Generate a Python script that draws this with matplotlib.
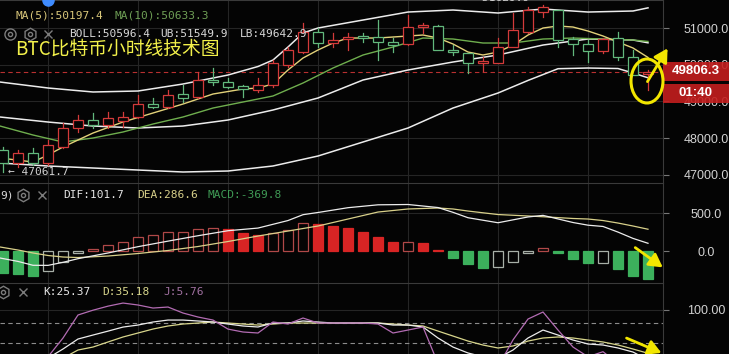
import matplotlib
matplotlib.use("Agg")
import matplotlib.pyplot as plt
from matplotlib.patches import Rectangle, Ellipse, FancyArrowPatch

# hourly BTC candles, oldest -> newest
opens = [47673, 47318, 47591, 47318, 47755, 48273, 48491, 48355, 48464, 48573,
         48927, 48846, 49200, 49118, 49582, 49527, 49418, 49309, 49445, 49991,
         50345, 50891, 50591, 50700, 50782, 50755, 50618, 50564, 51027, 51055,
         50400, 50318, 50045, 50045, 50482, 50891, 51436, 51491, 50700, 50564,
         50373, 50727, 50209, 49745]
highs = [47755, 47673, 47727, 47945, 48409, 48627, 48682, 48709, 48709, 49173,
         49091, 49309, 49445, 49800, 49909, 49636, 49445, 49636, 50127, 50482,
         51136, 51000, 50864, 50864, 50864, 51218, 50727, 51355, 51136, 51070,
         50536, 50330, 50209, 50727, 51409, 51573, 51629.9, 51500, 50755, 50673,
         50727, 50891, 50400, 49855]
lows = [47061.7, 47209, 47264, 47264, 47727, 48164, 48273, 48273, 48300, 48545,
        48818, 48818, 48982, 49091, 49445, 49364, 49118, 49255, 49391, 49936,
        50318, 50482, 50482, 50400, 50618, 50127, 50345, 50536, 50864, 50390,
        50264, 49773, 49827, 50040, 50470, 50864, 51300, 50482, 50264, 50073,
        50318, 50127, 49710, 49309]
closes = [47318, 47591, 47318, 47809, 48273, 48491, 48355, 48545, 48573, 48927,
          48846, 49173, 49091, 49582, 49527, 49391, 49336, 49445, 50045, 50400,
          50891, 50591, 50673, 50755, 50727, 50618, 50536, 51027, 51082, 50400,
          50345, 50045, 50100, 50482, 50945, 51491, 51573, 50673, 50564, 50373,
          50700, 50209, 49718, 49806.3]

ma5_idx = [-0.2, 2, 3, 4, 6, 8, 10, 12, 14, 16, 17, 18, 19, 20, 21, 22, 23, 25,
           27, 28, 29, 30, 31, 32, 33, 34, 35, 36, 37, 38, 39, 40, 41, 42, 43]
ma5 = [47455, 47346, 47537, 47755, 48136, 48437, 48682, 48927, 49200, 49336,
       49364, 49473, 49855, 50182, 50400, 50591, 50727, 50727, 50782, 50809,
       50727, 50564, 50345, 50264, 50345, 50536, 50809, 51000, 51055, 51027,
       50918, 50782, 50618, 50455, 50197.4]
ma10_idx = [-0.2, 2, 4, 6, 8, 10, 12, 14, 16, 18, 20, 22, 24, 26, 28, 30, 32, 34,
            36, 38, 40, 42, 43]
ma10 = [48327, 48082, 47891, 48000, 48164, 48382, 48573, 48818, 48982, 49146,
        49500, 49909, 50264, 50482, 50727, 50700, 50591, 50591, 50700, 50727,
        50700, 50673, 50633.3]

ub_idx = [-0.2, 3, 6, 9, 12, 15, 17, 18, 19, 20, 21, 24, 27, 30, 33, 36, 39, 42, 43]
ub = [49527, 49364, 49255, 49282, 49473, 49718, 49950, 50127, 50482, 50864,
      51000, 51218, 51436, 51491, 51409, 51518, 51436, 51464, 51549.9]
mid_idx = [-0.2, 3, 6, 9, 12, 15, 18, 21, 24, 27, 30, 33, 36, 39, 42, 43]
mid = [48573, 48436, 48327, 48273, 48327, 48491, 48764, 49091, 49582, 49855,
       50073, 50264, 50536, 50700, 50673, 50596.4]
lb_idx = [-0.2, 3, 6, 9, 12, 15, 18, 21, 24, 27, 30, 33, 35, 37, 39, 41, 42, 43]
lb = [47318, 47237, 47182, 47127, 47073, 47100, 47237, 47509, 47891, 48273,
      48818, 49227, 49570, 49890, 49909, 49895, 49773, 49642.9]

macd_hist = [-290, -300, -325, -260, -140, -30, 26, 79, 114, 180, 210, 246, 250,
             285, 298, 285, 241, 210, 241, 276, 364, 355, 329, 298, 254, 189,
             114, 118, 101, 13, -88, -175, -228, -215, -145, -26, 35, -30, -105,
             -162, -155, -237, -325, -369.8]
macd_idx = [-0.2, 1, 2, 3, 4, 5, 7, 9, 11, 13, 15, 17, 19, 20, 21, 23, 25, 27, 29,
            30, 31, 33, 35, 36, 38, 39, 40, 41, 42, 43]
dif = [-92, -137, -188, -189, -149, -101, -26, 57, 130, 201, 267, 302, 401, 478,
       507, 570, 608, 612, 572, 509, 438, 372, 448, 469, 375, 340, 323, 249, 166,
       101.7]
dea = [53, 13, -26, -59, -79, -86, -66, -33, 7, 59, 125, 197, 263, 296, 329, 421,
       513, 553, 566, 553, 526, 480, 461, 451, 428, 421, 401, 368, 329, 286.6]

k_vals = [15, 18, 24, 28, 41.5, 56.3, 62.2, 68, 74, 77, 81.5, 84.4, 84.4, 83,
          81.5, 78.5, 75.6, 74.1, 80, 80, 83, 81.5, 80, 80, 80, 80, 77, 77, 74.1,
          57.8, 44.4, 35.6, 30, 28, 40, 57.8, 69.6, 62.2, 54.8, 48.9, 47.4, 43,
          37, 25.37]
d_vals = [10, 12, 16, 20, 28, 40, 44.4, 51.9, 59.3, 65.2, 71.1, 75.6, 78.5, 80,
          81.5, 80, 78.5, 77, 78.5, 80, 80, 80, 80, 80, 80, 80, 78.5, 77, 75.6,
          68.1, 60.7, 53.3, 47.4, 43, 46, 53.3, 57.8, 59.3, 57.8, 54.8, 51.9,
          47.4, 41.5, 35.18]
j_vals = [20, 25, 28, 30, 57.8, 91.9, 99, 105, 109.6, 106.7, 102.2, 103.7, 94.8,
          88.9, 84.4, 71, 66.7, 65.2, 81.5, 78.5, 87.4, 80, 80, 80, 80, 78.5,
          65.2, 69.6, 74.1, 20, -10, -20, -5, 15, 55, 85.9, 96.3, 69.6, 44.4, 30,
          37.5, 20, 10, 5.76]

price_ticks = [47000, 48000, 49000, 50000, 51000]
last_price = 49806.3

BG = "#040404"
GRID = "#252525"
EDGE = "#3a3a3a"
UP = "#d33a3a"
DOWN = "#62b87c"
W, H = 729, 354
MONO = "DejaVu Sans Mono"
LAB = "Liberation Sans"

fig = plt.figure(figsize=(W / 100, H / 100), dpi=100, facecolor=BG)


def panel(top, bottom):
    a = fig.add_axes([0, 1 - bottom / H, 663 / W, (bottom - top) / H], facecolor=BG)
    a.set_xlim(-0.2, 44.0)
    a.set_xticks([])
    for s in ("left", "bottom"):
        a.spines[s].set_visible(False)
    for s in ("top", "right"):
        a.spines[s].set_color(EDGE)
        a.spines[s].set_linewidth(0.8)
    a.yaxis.tick_right()
    a.tick_params(axis="y", length=4, width=0.8, color="#777777",
                  labelcolor="#d2d2d2", labelsize=9, pad=27)
    for xg in range(3, 44, 6):
        a.axvline(xg, color=GRID, lw=0.8, zorder=0)
    return a


def set_labels(a, ticks, fmt):
    a.set_yticks(ticks)
    a.set_yticklabels([fmt.format(t) for t in ticks])
    for lbl in a.get_yticklabels():
        lbl.set_ha("center")
        lbl.set_fontfamily(LAB)


# main price panel
ax = panel(0, 183)
ax.set_ylim(46773, 51764)
set_labels(ax, price_ticks, "{:.1f}")
for p in price_ticks:
    ax.axhline(p, color=GRID, lw=0.8, zorder=0)

ax.plot(ub_idx, ub, color="#ececec", lw=1.1, zorder=2)
ax.plot(mid_idx, mid, color="#ececec", lw=1.1, zorder=2)
ax.plot(lb_idx, lb, color="#ececec", lw=1.1, zorder=2)
ax.plot(ma10_idx, ma10, color="#6fae4e", lw=1.0, zorder=2)
ax.plot(ma5_idx, ma5, color="#e3d27a", lw=1.0, zorder=2)
ax.axhline(last_price, color="#b83030", lw=0.8, ls=(0, (4, 3)), zorder=1)

bw = 0.62
for i in range(len(opens)):
    o, h, l, c = opens[i], highs[i], lows[i], closes[i]
    col = UP if c >= o else DOWN
    top, bot = max(o, c), min(o, c)
    ax.plot([i, i], [top, h], color=col, lw=0.9, zorder=3)
    ax.plot([i, i], [l, bot], color=col, lw=0.9, zorder=3)
    if top - bot < 20:
        ax.plot([i - bw / 2, i + bw / 2], [c, c], color=col, lw=1.2, zorder=3)
    else:
        ax.add_patch(Rectangle((i - bw / 2, bot), bw, top - bot, facecolor=BG,
                               edgecolor=col, lw=0.9, zorder=3))

# MACD panel
ax_m = panel(183, 283)
ax_m.set_ylim(-421, 895)
set_labels(ax_m, [0, 500], "{:.1f}")
ax_m.axhline(500, color=GRID, lw=0.8, zorder=0)
faces, edges = [], []
for i, v in enumerate(macd_hist):
    rising = i > 0 and v > macd_hist[i - 1]
    if v >= 0:
        faces.append(BG if rising else "#d82424")
        edges.append("#b04848" if rising else "#d82424")
    else:
        faces.append(BG if rising else "#3cb05c")
        edges.append("#a8b0a8" if rising else "#3cb05c")
ax_m.bar(range(len(macd_hist)), macd_hist, width=0.64, color=faces,
         edgecolor=edges, linewidth=0.9, zorder=2)
ax_m.plot(macd_idx, dea, color="#d8d08a", lw=0.9, zorder=3)
ax_m.plot(macd_idx, dif, color="#ececec", lw=0.9, zorder=3)

# KDJ panel
ax_k = panel(283, 354)
ax_k.set_ylim(34.1, 139.3)
set_labels(ax_k, [100], "{:.2f}")
ax_k.axhline(100, color=GRID, lw=0.8, zorder=0)
for lvl in (80, 50):
    ax_k.axhline(lvl, color="#8c8c8c", lw=0.8, ls=(0, (4, 3)), zorder=1)
xs = range(len(k_vals))
ax_k.plot(xs, d_vals, color="#d8d68c", lw=0.9, zorder=2)
ax_k.plot(xs, k_vals, color="#ececec", lw=0.9, zorder=2)
ax_k.plot(xs, j_vals, color="#b36cb3", lw=0.9, zorder=2)

# overlay in pixel coordinates for legends and annotations
ov = fig.add_axes([0, 0, 1, 1])
ov.set_xlim(0, W)
ov.set_ylim(H, 0)
ov.axis("off")
ov.patch.set_alpha(0)


def txt(x, y, s, col, size=8, fam=MONO, **kw):
    ov.text(x, y, s, color=col, fontsize=size, family=fam, va="center", ha="left", **kw)


def icons(x_list, y, kinds):
    for x, k in zip(x_list, kinds):
        if k == "x":
            ov.plot(x, y, marker="x", ms=6, mew=1.0, color="#7c7c7c")
        else:
            ov.plot(x, y, marker=k, ms=9 if k == "h" else 8, mfc="none", mec="#7c7c7c", mew=1.0)
            ov.plot(x, y, marker="o", ms=3, mfc="none", mec="#7c7c7c", mew=1.0)


ov.plot(48, 0, marker="o", ms=8, color="#3f8cff", clip_on=True)
txt(16, 16, "MA(5):50197.4", "#d9c77a")
txt(115, 16, "MA(10):50633.3", "#6e9e55")
icons([10, 30, 48], 34, ["o", "h", "x"])
txt(69, 34, "BOLL:50596.4", "#d8d8d8")
txt(160, 34, "UB:51549.9", "#d8d8d8")
txt(240, 34, "LB:49642.9", "#d8d8d8")
txt(15, 49, "BTC比特币小时线技术图", "#f2f04a", size=13.5,
    fam=["Noto Sans CJK SC", "DejaVu Sans"])
txt(8, 172, "\u2190 47061.7", "#d2d2d2")
txt(482, -2, "51629.9 \u2192", "#d2d2d2")

txt(0, 195, "9)", "#d8d8d8")
icons([23, 42], 195, ["h", "x"])
txt(63, 195, "DIF:101.7", "#e6e6e6")
txt(137, 195, "DEA:286.6", "#d8d08a")
txt(208, 195, "MACD:-369.8", "#3f9a55")

icons([3, 23], 292, ["h", "x"])
txt(43, 292, "K:25.37", "#e6e6e6")
txt(102, 292, "D:35.18", "#d8d68c")
txt(163, 292, "J:5.76", "#a070a0")

# current price tags (axis labels show faintly through them, as in the app)
ov.add_patch(Rectangle((663, 62), 66, 19, facecolor="#c41e1e", alpha=0.9, lw=0))
ov.add_patch(Rectangle((663, 84), 66, 19, facecolor="#c41e1e", alpha=0.9, lw=0))
ov.text(696, 71.5, "49806.3", color="white", fontsize=9.5, family=LAB,
        weight="bold", ha="center", va="center")
ov.text(696, 93.5, "01:40", color="white", fontsize=9.5, family=LAB,
        weight="bold", ha="center", va="center")

# yellow annotations
YEL = "#f2e600"
ov.add_patch(Ellipse((647, 81), 32, 44, fill=False, edgecolor=YEL, lw=2.2))
for start, end in [((646, 84), (669, 46)), ((633, 246), (665, 269)), ((624, 337), (664, 354))]:
    ov.add_patch(FancyArrowPatch(start, end, color=YEL, lw=2.0,
                                 arrowstyle="-|>,head_length=0.8,head_width=0.45",
                                 mutation_scale=10))

fig.savefig("out.png", dpi=100, facecolor=BG)
